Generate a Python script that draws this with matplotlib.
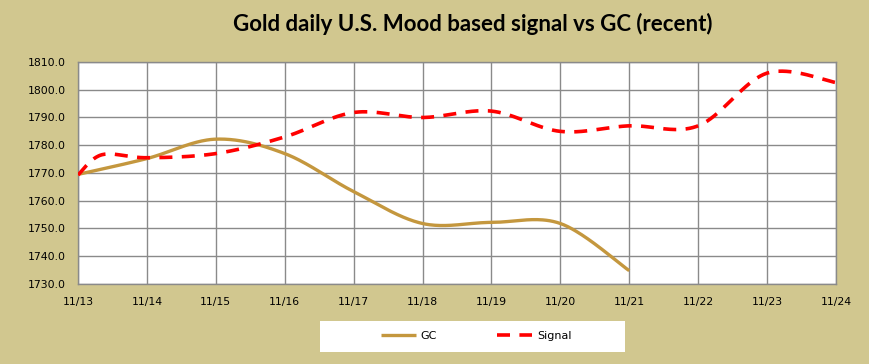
import numpy as np
import matplotlib
matplotlib.use("Agg")
import matplotlib.pyplot as plt
from matplotlib.patches import Rectangle

# ---- data ----
tick_days = [13, 14, 15, 16, 17, 18, 19, 20, 21, 22, 23, 24]
tick_labels = ["11/13", "11/14", "11/15", "11/16", "11/17", "11/18",
               "11/19", "11/20", "11/21", "11/22", "11/23", "11/24"]

gc_days = [13, 14, 15, 16, 17, 18, 19, 20, 21]
gc_vals = [1769.5, 1775.2, 1782.2, 1777.0, 1763.3, 1751.8, 1752.2, 1751.8, 1734.8]

sig_days = [13, 13.35, 14, 15, 16, 17, 18, 19, 20, 21, 22, 23, 24]
sig_vals = [1769.3, 1776.6, 1775.5, 1777.0, 1783.0, 1791.8, 1790.0, 1792.3,
            1785.0, 1787.0, 1787.0, 1806.0, 1802.6]

y_ticks = [1730, 1740, 1750, 1760, 1770, 1780, 1790, 1800, 1810]
title = "Gold daily U.S. Mood based signal vs GC (recent)"


def smooth(xs, ys, n=40):
    """Excel-style smoothed line (Catmull-Rom / Bezier)."""
    xs = np.asarray(xs, float)
    ys = np.asarray(ys, float)
    P = np.column_stack([xs, ys])
    P = np.vstack([P[0], P, P[-1]])
    out = []
    for i in range(1, len(P) - 2):
        p0, p1, p2, p3 = P[i - 1], P[i], P[i + 1], P[i + 2]
        b1 = p1 + (p2 - p0) / 6.0
        b2 = p2 - (p3 - p1) / 6.0
        t = np.linspace(0, 1, n)[:, None]
        seg = ((1 - t) ** 3) * p1 + 3 * ((1 - t) ** 2) * t * b1 + 3 * (1 - t) * t ** 2 * b2 + t ** 3 * p2
        out.append(seg if i == 1 else seg[1:])
    seg = np.vstack(out)
    return seg[:, 0], seg[:, 1]


bg = "#D1C78F"
fig = plt.figure(figsize=(8.7, 3.64), dpi=100, facecolor=bg)
ax = fig.add_axes([78 / 870, 1 - 284 / 364, (836 - 78) / 870, (284 - 62) / 364])
ax.set_facecolor("white")

gx, gy = smooth(gc_days, gc_vals)
sx, sy = smooth(sig_days, sig_vals)
ax.plot(gx, gy, color="#C4973E", lw=2.4, solid_capstyle="butt", label="GC", zorder=3)
ax.plot(sx, sy, color="#FF0000", lw=2.6, dashes=(3.6, 2.6), label="Signal", zorder=4)

ax.set_xlim(13, 24)
ax.set_ylim(1730, 1810)
ax.set_xticks(tick_days)
ax.set_xticklabels(tick_labels)
ax.set_yticks(y_ticks)
ax.set_yticklabels([f"{v:.1f}" for v in y_ticks])
ax.grid(True, color="#8A8A8A", lw=1.0)
ax.set_axisbelow(True)
for s in ax.spines.values():
    s.set_color("#8A8A8A")
    s.set_linewidth(1.0)
ax.tick_params(length=0, labelsize=7.8, pad=9, colors="black")
ax.tick_params(axis="x", pad=9)

fig.text(473 / 870, 1 - 24 / 364, title, ha="center", va="center",
         fontsize=16, fontweight="bold", family="Lato")

# legend box
fig.patches.append(Rectangle((320 / 870, 1 - 352 / 364), 305 / 870, 31 / 364,
                             transform=fig.transFigure, facecolor="white",
                             edgecolor="none", zorder=0))
h, l = ax.get_legend_handles_labels()
fig.legend(h, l, loc="center", bbox_to_anchor=(476 / 870, 1 - 336 / 364),
           ncol=2, frameon=False, fontsize=8, handlelength=3.2,
           columnspacing=5.4, handletextpad=0.4)

fig.savefig("out.png", dpi=100, facecolor=bg)
